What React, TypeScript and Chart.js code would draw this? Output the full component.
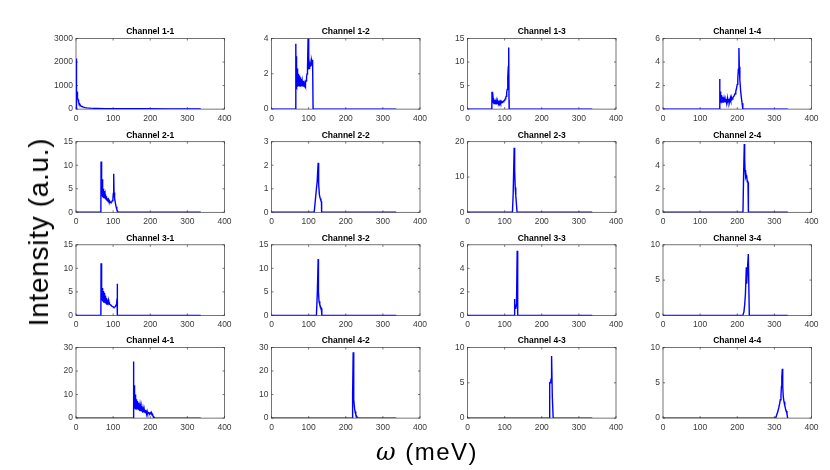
import React, { useEffect, useRef } from "react";
import { Chart, registerables } from "chart.js";

Chart.register(...registerables);

type P = [number, number][];

const xTickValues = [0, 100, 200, 300, 400];
const xMax = 400;

const titles = [
  "Channel 1-1", "Channel 1-2", "Channel 1-3", "Channel 1-4",
  "Channel 2-1", "Channel 2-2", "Channel 2-3", "Channel 2-4",
  "Channel 3-1", "Channel 3-2", "Channel 3-3", "Channel 3-4",
  "Channel 4-1", "Channel 4-2", "Channel 4-3", "Channel 4-4",
];
const yMax = [3000, 4, 15, 6, 15, 3, 20, 6, 15, 15, 6, 10, 30, 30, 10, 10];
const yStep = [1000, 2, 5, 2, 5, 1, 10, 2, 5, 5, 2, 5, 10, 10, 5, 5];

const ch11: P = [[0,0],[0.2,2150],[0.6,1600],[1,1200],[1.5,950],[2,850],[2.5,780],[3,720],[3.6,650],[4.5,500],[5.5,400],[7,300],[8.5,240],[10,200],[13,140],[16,110],[20,85],[25,65],[30,52],[40,40],[55,30],[80,22],[120,16],[180,12],[250,9],[336,7]];
const ch12: P = [[0,0],[65,0],[65.5,3.7],[66,1.4],[66.5,3.0],[67,1.3],[67.5,2.6],[68,1.4],[68.5,2.5],[69,1.3],[69.5,2.3],[70,1.4],[70.5,2.1],[71,1.3],[71.5,2.0],[72,1.4],[72.5,1.9],[73,1.3],[73.5,2.0],[74,1.4],[74.5,1.8],[75,1.3],[75.5,1.9],[76,1.4],[76.5,1.8],[77,1.3],[77.5,1.7],[78,1.4],[78.5,1.8],[79,1.3],[79.5,1.7],[80,1.4],[80.5,1.6],[81,1.3],[81.5,1.7],[82,1.4],[82.5,1.6],[83,1.3],[83.5,1.6],[84,1.4],[84.5,1.5],[85,1.3],[85.5,1.6],[86,1.35],[86.5,1.5],[87,1.3],[87.5,1.5],[88,1.35],[88.5,1.5],[89,1.3],[89.5,1.45],[90,1.35],[90.5,1.5],[91,1.4],[92,1.5],[93,1.6],[94,1.7],[95,1.85],[96,2.0],[97,2.3],[98.5,4.0],[99.5,2.3],[100,2.4],[100.5,2.25],[101,2.5],[101.5,2.3],[102,2.5],[102.5,2.35],[103,2.55],[103.5,2.4],[104,2.6],[104.5,2.4],[105,2.6],[105.5,2.45],[106,2.65],[106.5,2.5],[107,2.7],[107.5,2.5],[108,2.7],[108.5,2.55],[109,2.75],[109.5,2.6],[110,2.8],[110.5,2.6],[111,2.75],[111.5,2.7],[112,0],[336,0]];
const ch13: P = [[0,0],[65.5,0],[66,3.7],[66.5,1.4],[67,2.8],[67.5,1.3],[68,2.5],[68.5,1.3],[69,2.3],[69.5,1.2],[70,2.2],[70.5,1.3],[71,2.1],[71.5,1.2],[72,2.0],[72.5,1.3],[73,2.0],[73.5,1.2],[74,1.9],[74.5,1.3],[75,1.9],[75.5,1.2],[76,1.8],[76.5,1.3],[77,1.8],[77.5,1.2],[78,1.8],[78.5,1.3],[79,1.7],[79.5,1.2],[80,1.7],[80.5,1.3],[81,1.7],[81.5,1.2],[82,1.7],[82.5,1.3],[83,1.6],[83.5,1.2],[84,1.6],[84.5,1.3],[85,1.6],[85.5,1.25],[86,1.6],[86.5,1.3],[87,1.6],[87.5,1.3],[88,1.6],[88.5,1.3],[89,1.55],[89.5,1.3],[90,1.55],[90.5,1.35],[91,1.55],[91.5,1.35],[92,1.6],[93,1.45],[94,1.6],[95,1.5],[96,1.65],[97,1.6],[98,1.75],[99,1.8],[100,1.9],[101,2.0],[102,2.2],[103,2.4],[104,2.7],[105,3.0],[106,3.5],[107,4.2],[108,5.2],[109,6.8],[110,9.0],[111,13.1],[111.8,2],[112.3,0],[336,0]];
const ch14: P = [[0,0],[152,0],[152.5,2.55],[153,0.9],[153.5,1.6],[154,0.8],[154.5,1.5],[155,0.7],[155.5,1.3],[156,0.7],[156.5,1.2],[157,0.65],[157.5,1.15],[158,0.65],[158.5,1.1],[159,0.6],[159.5,1.05],[160,0.6],[160.5,1.0],[161,0.6],[161.5,1.0],[162,0.6],[162.5,0.95],[163,0.6],[163.5,0.95],[164,0.6],[164.5,0.9],[165,0.6],[165.5,0.9],[166,0.6],[166.5,0.9],[167,0.6],[167.5,0.85],[168,0.6],[168.5,0.85],[169,0.6],[169.5,0.85],[170,0.6],[171,0.85],[172,0.62],[173,0.85],[174,0.62],[175,0.85],[176,0.63],[177,0.85],[178,0.65],[179,0.88],[180,0.68],[181,0.9],[182,0.72],[183,0.92],[184,0.78],[185,0.95],[186,0.85],[188,0.95],[190,1.05],[192,1.15],[194,1.3],[196,1.5],[198,1.75],[200,2.1],[201.5,2.6],[203,3.4],[204.5,5.2],[205.5,3.6],[207,2.5],[209,1.6],[211,1.0],[213,0.5],[215,0],[336,0]];

const ch21: P = [[0,0],[67,0],[67.5,10.8],[68,4],[68.5,8.7],[69,3.5],[69.5,7],[70,3.8],[70.5,6],[71,3.2],[71.5,7],[72,3.5],[72.5,5],[73,3.3],[73.5,5],[74,3.3],[74.5,4.8],[75,3.2],[75.5,4.5],[76,3.1],[76.5,4.3],[77,3.0],[77.5,4.0],[78,3.0],[78.5,3.8],[79,2.9],[79.5,3.6],[80,2.8],[80.5,3.5],[81,2.8],[81.5,3.4],[82,2.7],[83,3.2],[84,2.6],[85,3.0],[86,2.6],[87,2.8],[88,2.5],[89,2.6],[90,2.4],[92,2.25],[94,2.1],[96,2.15],[98,2.5],[99.5,3.0],[100.5,4],[101.5,8.2],[102.5,4.2],[104,3],[106,2],[108,1.2],[110,0.6],[113,0],[336,0]];
const ch22: P = [[0,0],[115,0],[118,0.5],[121,1.0],[123,1.3],[125.7,2.1],[127,1.2],[129,0.75],[131,0.6],[133,0.5],[134.6,0.45],[135,0],[336,0]];
const ch23: P = [[0,0],[121,0],[123,5],[125.7,18.3],[127,12],[128.5,7],[130,4.8],[133.5,0],[336,0]];
const ch24: P = [[0,0],[215.4,0],[217,3],[219,5.8],[220,4.5],[221,3.6],[222,3.2],[223,3.0],[224,3.15],[225,2.9],[226,3.1],[227,2.6],[228,2.7],[229,2.5],[229.5,2.55],[230.5,0],[336,0]];

const ch31: P = [[0,0],[67,0],[67.5,11.1],[68,3.5],[68.5,7.7],[69,3.3],[69.5,6.5],[70,3.2],[70.5,5.8],[71,3.1],[71.5,5.5],[72,3.0],[72.5,5.4],[73,3.0],[73.5,5.2],[74,2.9],[74.5,5.0],[75,2.9],[75.5,4.8],[76,2.8],[76.5,4.6],[77,2.8],[77.5,4.4],[78,2.7],[78.5,4.2],[79,2.7],[79.5,4.0],[80,2.6],[80.5,3.9],[81,2.6],[81.5,3.7],[82,2.5],[83,3.5],[84,2.5],[85,3.3],[86,2.4],[87,3.1],[88,2.4],[89,2.8],[90,2.4],[92,2.3],[94,2.15],[96,2.0],[98,1.9],[100,1.8],[102,1.7],[104,1.75],[106,1.9],[108,2.2],[109.5,2.6],[110.5,3.5],[111,6.7],[111.8,0],[336,0]];
const ch32: P = [[0,0],[121,0],[123.5,5],[125.7,12],[126.5,5],[128,3],[130,2.3],[132,1.9],[134.5,1.5],[135.5,0],[336,0]];
const ch33: P = [[0,0],[125.5,0],[126.5,1.4],[127.5,0.8],[128.4,0.6],[130,0.8],[131,0.75],[132,0.9],[133.8,5.5],[135.2,0],[336,0]];
const ch34: P = [[0,0],[215,0],[218,0.5],[220,1.5],[222,3],[224.4,6.8],[225,5],[226,4.5],[228,7],[229.8,8.7],[232.5,0],[336,0]];

const ch41: P = [[0,0],[154,0],[154.5,24],[155,5],[155.5,16],[156,3],[156.5,14],[157,4],[157.5,12],[158,4],[158.5,11],[159,4.2],[159.5,10],[160,4],[160.5,9],[161,4.5],[161.5,8.5],[162,4.5],[162.5,8],[163,4.5],[163.5,7.5],[164,4.2],[164.5,7.2],[165,4],[165.5,7],[166,4],[166.5,6.8],[167,3.8],[167.5,6.5],[168,3.8],[168.5,6.3],[169,3.6],[169.5,6],[170,3.6],[170.5,5.8],[171,3.5],[171.5,5.6],[172,3.4],[172.5,5.4],[173,3.3],[173.5,5.3],[174,3.2],[174.5,5.1],[175,3.1],[175.5,5],[176,3],[176.5,4.8],[177,3],[177.5,4.6],[178,2.9],[178.5,4.5],[179,2.8],[179.5,4.3],[180,2.7],[180.5,4.2],[181,2.7],[181.5,4],[182,2.6],[182.5,3.9],[183,2.5],[183.5,3.8],[184,2.5],[184.5,3.6],[185,2.4],[185.5,3.5],[186,2.4],[186.5,3.4],[187,2.3],[187.5,3.3],[188,2.3],[188.5,3.2],[189,2.2],[189.5,3.1],[190,2.2],[190.5,3.0],[191,2.1],[191.5,2.9],[192,2.1],[192.5,2.8],[193,2.0],[193.5,2.7],[194,2.0],[194.5,2.6],[195,2.0],[196,2.5],[197,1.9],[198,2.4],[199,1.9],[200,2.3],[201,1.9],[202,2.2],[203,1.9],[204,2.1],[205,1.8],[206,1.6],[207,1.2],[208,0.8],[209,0.5],[210,0.3],[212,0],[336,0]];
const ch42: P = [[0,0],[217,0],[218.5,10],[220,28],[221,15],[222,8],[223.5,4.5],[225,2.8],[227,1.5],[229,0.8],[231,0.3],[233,0],[336,0]];
const ch43: P = [[0,0],[220,0],[220.8,5],[222,5],[223.5,5.1],[224,4.9],[225,5.5],[226,7],[227,8.8],[228.5,3],[230.7,0],[336,0]];
const ch44: P = [[0,0],[303.4,0],[306,0.4],[309.7,1.0],[312,1.5],[314,2.0],[316,2.6],[317.7,3.1],[319,4.5],[320,5.8],[321.4,7.0],[322.5,4.5],[324,3.0],[326,2.3],[328,1.8],[330,1.3],[332,1.0],[334,0.6],[335.7,0],[336,0]];

const series: P[] = [ch11, ch12, ch13, ch14, ch21, ch22, ch23, ch24, ch31, ch32, ch33, ch34, ch41, ch42, ch43, ch44];

// layout (pixels)
const colLefts = [76, 271.5, 467.5, 663];
const rowTops = [38.5, 141.7, 244.8, 347.5];
const plotW = 148.5;
const plotH = 70.6;
const canvasW = 205;
const canvasH = 118;
const xAxisH = 18;

function Panel({ idx }: { idx: number }) {
  const ref = useRef<HTMLCanvasElement>(null);
  const r = Math.floor(idx / 4);
  const c = idx % 4;
  const L = colLefts[c];
  const T = rowTops[r];
  const cLeft = Math.floor(L) - 40;
  const cTop = Math.floor(T) - 26;
  const yW = L - cLeft;
  const padTop = T - cTop;
  const padRight = canvasW - yW - plotW;
  const padBottom = canvasH - padTop - plotH - xAxisH;

  useEffect(() => {
    if (!ref.current) return;
    const title = titles[idx];
    const boxPlugin = {
      id: "boxPlugin",
      beforeDatasetsDraw(chart: any) {
        const { ctx, chartArea: a, scales } = chart;
        ctx.save();
        ctx.strokeStyle = "#3a3a3a";
        ctx.lineWidth = 0.7;
        ctx.strokeRect(a.left, a.top, a.right - a.left, a.bottom - a.top);
        const tl = 2;
        ctx.beginPath();
        scales.x.ticks.forEach((t: any) => {
          const px = scales.x.getPixelForValue(t.value);
          ctx.moveTo(px, a.bottom);
          ctx.lineTo(px, a.bottom - tl);
          ctx.moveTo(px, a.top);
          ctx.lineTo(px, a.top + tl);
        });
        scales.y.ticks.forEach((t: any) => {
          const py = scales.y.getPixelForValue(t.value);
          ctx.moveTo(a.left, py);
          ctx.lineTo(a.left + tl, py);
          ctx.moveTo(a.right, py);
          ctx.lineTo(a.right - tl, py);
        });
        ctx.stroke();
        ctx.fillStyle = "#000";
        ctx.font = 'bold 8.5px "Liberation Sans", Arial, sans-serif';
        ctx.textAlign = "center";
        ctx.textBaseline = "middle";
        ctx.fillText(title, (a.left + a.right) / 2, a.top - 6.5);
        ctx.restore();
      },
    };

    const tickFont = { size: 8.5, family: '"Liberation Sans", Arial, sans-serif' };

    const chart = new Chart(ref.current, {
      type: "line",
      data: {
        datasets: [
          {
            data: series[idx].map(([x, y]) => ({ x, y })),
            borderColor: "#0000ff",
            borderWidth: 1.4,
            pointRadius: 0,
            tension: 0,
            fill: false,
          },
        ],
      },
      options: {
        animation: false,
        responsive: false,
        devicePixelRatio: 1,
        events: [],
        layout: { padding: { top: padTop, right: padRight, bottom: padBottom, left: 0 } },
        plugins: { legend: { display: false }, tooltip: { enabled: false }, title: { display: false } },
        scales: {
          x: {
            type: "linear",
            min: 0,
            max: xMax,
            afterFit: (s: any) => { s.height = xAxisH; },
            afterBuildTicks: (s: any) => { s.ticks = xTickValues.map((v) => ({ value: v })); },
            grid: { display: false, drawTicks: false },
            border: { display: false },
            ticks: {
              padding: 4,
              color: "#3a3a3a",
              font: tickFont,
              maxRotation: 0,
              autoSkip: false,
              callback: (v: any) => String(v),
            },
          },
          y: {
            type: "linear",
            min: 0,
            max: yMax[idx],
            afterFit: (s: any) => { s.width = yW; },
            grid: { display: false, drawTicks: false },
            border: { display: false },
            ticks: {
              stepSize: yStep[idx],
              padding: 3,
              color: "#3a3a3a",
              font: tickFont,
              autoSkip: false,
              callback: (v: any) => String(v),
            },
          },
        },
      },
      plugins: [boxPlugin],
    } as any);
    return () => chart.destroy();
  }, [idx]);

  return (
    <canvas
      ref={ref}
      width={canvasW}
      height={canvasH}
      style={{ position: "absolute", left: cLeft, top: cTop, width: canvasW, height: canvasH }}
    />
  );
}

export default function App() {
  return (
    <div
      style={{
        position: "absolute",
        left: 0,
        top: 0,
        width: 830,
        height: 470,
        background: "#fff",
        overflow: "hidden",
        fontFamily: '"Liberation Sans", Arial, sans-serif',
      }}
    >
      {titles.map((_, i) => (
        <Panel key={i} idx={i} />
      ))}
      <div
        style={{
          position: "absolute",
          left: 38.5,
          top: 231.5,
          transform: "translate(-50%, -50%) rotate(-90deg)",
          fontSize: 28,
          letterSpacing: 0.7,
          whiteSpace: "nowrap",
          color: "#000",
          lineHeight: 1,
        }}
      >
        Intensity (a.u.)
      </div>
      <div
        style={{
          position: "absolute",
          left: 427,
          top: 452,
          transform: "translate(-50%, -50%)",
          fontSize: 24,
          letterSpacing: 1.5,
          whiteSpace: "nowrap",
          color: "#000",
          lineHeight: 1,
        }}
      >
        <span style={{ fontStyle: "italic", fontFamily: '"DejaVu Serif", serif' }}>ω</span> (meV)
      </div>
    </div>
  );
}
